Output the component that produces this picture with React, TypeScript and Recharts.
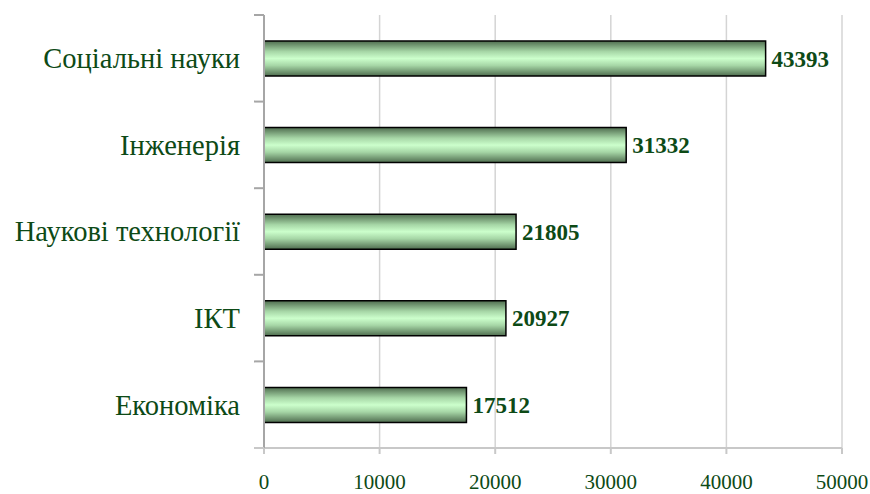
import React from 'react';
import { BarChart, Bar, XAxis, YAxis, CartesianGrid, LabelList } from 'recharts';

const fields = ['Соціальні науки', 'Інженерія', 'Наукові технології', 'ІКТ', 'Економіка'];
const counts = [43393, 31332, 21805, 20927, 17512];
const xTicks = [0, 10000, 20000, 30000, 40000, 50000];

const data = fields.map((name, i) => ({ name, value: counts[i] }));

const W = 870;
const H = 494;
const M = { top: 15, right: 28, left: 0, bottom: 0 };
const X_AXIS_H = 46;
const Y_AXIS_W = 264;
const band = (H - M.top - M.bottom - X_AXIS_H) / fields.length;

const textColor = '#0d4a16';
const font = 'Liberation Serif, Times New Roman, serif';

// category labels + tick marks between the bands (Excel style)
const CategoryTick = (props: any) => {
  const { y, payload, index } = props;
  const axisX = Y_AXIS_W;
  return (
    <g>
      <line x1={axisX - 10} x2={axisX} y1={y - band / 2} y2={y - band / 2} stroke="#a6a6a6" strokeWidth={2} />
      {index === fields.length - 1 && (
        <line x1={axisX - 10} x2={axisX} y1={y + band / 2} y2={y + band / 2} stroke="#c8c8c8" strokeWidth={2} />
      )}
      <text x={axisX - 24} y={y} dy="0.35em" textAnchor="end" fill={textColor} style={{ fontFamily: font, fontSize: 28.5 }}>
        {payload.value}
      </text>
    </g>
  );
};

const App = () => {
  return (
    <div style={{ position: 'absolute', left: 0, top: 0, background: '#fff', fontFamily: font }}>
      <BarChart width={W} height={H} data={data} layout="vertical" margin={M} barSize={35}>
        <defs>
          <linearGradient id="barFill" x1="0" y1="0" x2="0" y2="1">
            <stop offset="0%" stopColor="#4f6d4f" />
            <stop offset="30%" stopColor="#a6d6a6" />
            <stop offset="50%" stopColor="#ccffcc" />
            <stop offset="70%" stopColor="#a6d6a6" />
            <stop offset="100%" stopColor="#4f6d4f" />
          </linearGradient>
        </defs>
        <CartesianGrid horizontal={false} stroke="#d4d4d4" strokeWidth={1.5} />
        <XAxis
          type="number"
          domain={[0, 50000]}
          ticks={xTicks}
          interval={0}
          height={X_AXIS_H}
          axisLine={{ stroke: '#c8c8c8', strokeWidth: 2 }}
          tickLine={{ stroke: '#c8c8c8', strokeWidth: 2 }}
          tickSize={6}
          tickMargin={20}
          tick={{ fill: textColor, fontSize: 21, style: { fontFamily: font } }}
        />
        <YAxis
          type="category"
          dataKey="name"
          width={Y_AXIS_W}
          axisLine={{ stroke: '#a6a6a6', strokeWidth: 2 }}
          tickLine={false}
          tick={<CategoryTick />}
          interval={0}
        />
        <Bar dataKey="value" fill="url(#barFill)" stroke="#000" strokeWidth={1.5} isAnimationActive={false}>
          <LabelList
            dataKey="value"
            position="right"
            offset={6}
            fill={textColor}
            fontSize={23}
            fontWeight="bold"
            style={{ fontFamily: font }}
          />
        </Bar>
      </BarChart>
    </div>
  );
};

export default App;
